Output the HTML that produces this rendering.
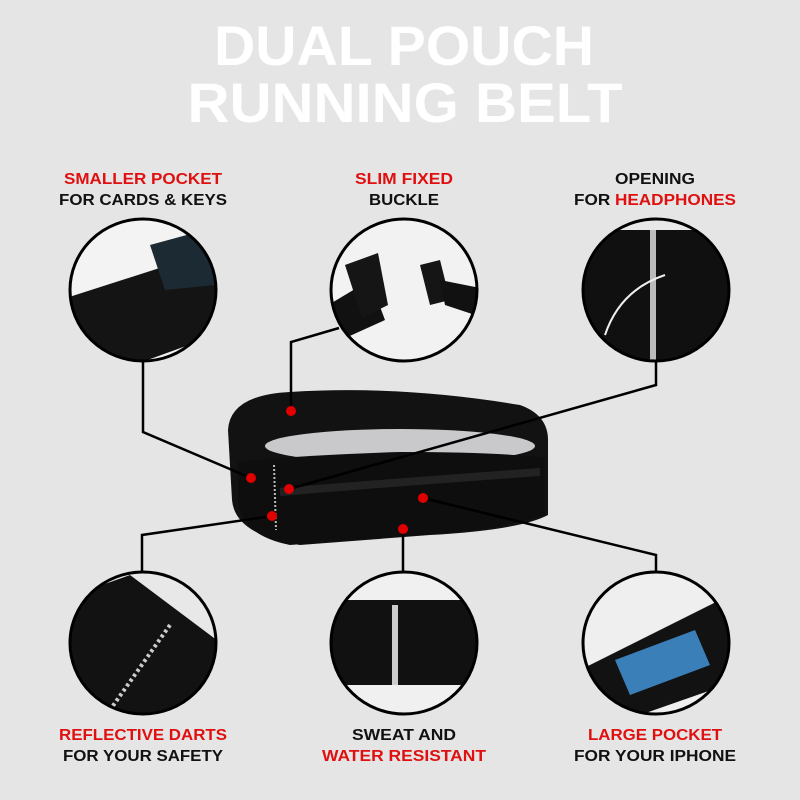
<!DOCTYPE html>
<html><head><style>
html,body{margin:0;padding:0;background:#e5e5e5;}
svg{display:block}
text{font-family:"Liberation Sans",sans-serif;font-weight:bold;}
</style></head><body>
<svg width="800" height="800" viewBox="0 0 800 800">
<rect width="800" height="800" fill="#e5e5e5"/>
<defs>
<clipPath id="c1"><ellipse cx="143" cy="290" rx="73" ry="71"/></clipPath>
<clipPath id="c2"><ellipse cx="404" cy="290" rx="73" ry="71"/></clipPath>
<clipPath id="c3"><ellipse cx="656" cy="290" rx="73" ry="71"/></clipPath>
<clipPath id="c4"><ellipse cx="143" cy="643" rx="73" ry="71"/></clipPath>
<clipPath id="c5"><ellipse cx="404" cy="643" rx="73" ry="71"/></clipPath>
<clipPath id="c6"><ellipse cx="656" cy="643" rx="73" ry="71"/></clipPath>
</defs>
<g fill="#fff" font-size="56" text-anchor="middle">
<text x="404" y="65" textLength="380" lengthAdjust="spacingAndGlyphs">DUAL POUCH</text>
<text x="405" y="122" textLength="435" lengthAdjust="spacingAndGlyphs">RUNNING BELT</text>
</g>
<g font-size="16" text-anchor="middle">
<text x="143" y="184" fill="#e01010" textLength="158" lengthAdjust="spacingAndGlyphs">SMALLER POCKET</text>
<text x="143" y="205" fill="#111" textLength="168" lengthAdjust="spacingAndGlyphs">FOR CARDS &amp; KEYS</text>
<text x="404" y="184" fill="#e01010" textLength="98" lengthAdjust="spacingAndGlyphs">SLIM FIXED</text>
<text x="404" y="205" fill="#111" textLength="70" lengthAdjust="spacingAndGlyphs">BUCKLE</text>
<text x="655" y="184" fill="#111" textLength="80" lengthAdjust="spacingAndGlyphs">OPENING</text>
<text x="655" y="205" textLength="162" lengthAdjust="spacingAndGlyphs"><tspan fill="#111">FOR </tspan><tspan fill="#e01010">HEADPHONES</tspan></text>
<text x="143" y="740" fill="#e01010" textLength="168" lengthAdjust="spacingAndGlyphs">REFLECTIVE DARTS</text>
<text x="143" y="761" fill="#111" textLength="160" lengthAdjust="spacingAndGlyphs">FOR YOUR SAFETY</text>
<text x="404" y="740" fill="#111" textLength="104" lengthAdjust="spacingAndGlyphs">SWEAT AND</text>
<text x="404" y="761" fill="#e01010" textLength="164" lengthAdjust="spacingAndGlyphs">WATER RESISTANT</text>
<text x="655" y="740" fill="#e01010" textLength="134" lengthAdjust="spacingAndGlyphs">LARGE POCKET</text>
<text x="655" y="761" fill="#111" textLength="162" lengthAdjust="spacingAndGlyphs">FOR YOUR IPHONE</text>
</g>
<g clip-path="url(#c1)"><rect x="60" y="210" width="170" height="160" fill="#f3f3f3"/>
<path d="M60 300 L200 255 L230 270 L230 330 L120 370 L60 370Z" fill="#141414"/>
<path d="M150 245 L205 230 L215 285 L165 290Z" fill="#1c2a33"/></g>
<g clip-path="url(#c2)"><rect x="320" y="210" width="170" height="160" fill="#f2f2f2"/>
<path d="M320 310 L370 280 L385 320 L330 345Z" fill="#111"/>
<path d="M345 265 L378 253 L388 305 L362 318Z" fill="#151515"/>
<path d="M420 265 L440 260 L450 300 L430 305Z" fill="#151515"/>
<path d="M440 280 L490 290 L490 320 L445 305Z" fill="#111"/></g>
<g clip-path="url(#c3)"><rect x="580" y="210" width="170" height="160" fill="#101010"/>
<rect x="580" y="210" width="170" height="20" fill="#e8e8e8"/>
<rect x="650" y="230" width="6" height="130" fill="#bbb"/>
<path d="M665 275 Q620 290 605 335" stroke="#eee" stroke-width="2" fill="none"/></g>
<g clip-path="url(#c4)"><rect x="60" y="565" width="170" height="160" fill="#e8e8e8"/>
<path d="M60 600 L130 575 L230 650 L230 720 L60 720Z" fill="#121212"/>
<path d="M170 625 L110 710" stroke="#ccc" stroke-width="4" stroke-dasharray="3 3"/></g>
<g clip-path="url(#c5)"><rect x="320" y="565" width="170" height="160" fill="#f0f0f0"/>
<rect x="320" y="600" width="170" height="85" fill="#111"/>
<rect x="392" y="605" width="6" height="80" fill="#ccc"/></g>
<g clip-path="url(#c6)"><rect x="580" y="565" width="170" height="160" fill="#efefef"/>
<path d="M580 670 L720 600 L740 620 L740 680 L640 715 L580 720Z" fill="#121212"/>
<path d="M615 660 L695 630 L710 665 L630 695Z" fill="#3a7fb8"/></g>
<g fill="none" stroke="#000" stroke-width="3">
<ellipse cx="143" cy="290" rx="73" ry="71"/><ellipse cx="404" cy="290" rx="73" ry="71"/><ellipse cx="656" cy="290" rx="73" ry="71"/>
<ellipse cx="143" cy="643" rx="73" ry="71"/><ellipse cx="404" cy="643" rx="73" ry="71"/><ellipse cx="656" cy="643" rx="73" ry="71"/>
</g>
<!-- belt -->
<path d="M228 430 Q230 395 290 392 Q400 385 520 405 Q548 415 548 440 L548 515 Q520 530 430 535 L300 545 Q235 535 232 500Z" fill="#121212"/>
<ellipse cx="400" cy="446" rx="135" ry="17" fill="#c9c9cc"/>
<path d="M238 462 Q300 455 400 452 Q500 452 545 458 L545 515 Q500 530 420 535 L290 545 Q240 535 238 500Z" fill="#0e0e0e"/>
<path d="M280 492 Q400 482 540 472" stroke="#222" stroke-width="8" fill="none"/>
<path d="M274 465 L276 530" stroke="#bbb" stroke-width="2" stroke-dasharray="2 2"/>
<g fill="none" stroke="#000" stroke-width="2.5">
<polyline points="143,362 143,432 251,478"/>
<polyline points="339,328 291,342 291,410"/>
<polyline points="656,362 656,385 289,489"/>
<polyline points="272,516 142,535 142,572"/>
<polyline points="403,529 403,572"/>
<polyline points="423,498 656,555 656,572"/>
</g>
<g fill="#e00000">
<circle cx="291" cy="411" r="5"/><circle cx="251" cy="478" r="5"/><circle cx="289" cy="489" r="5"/>
<circle cx="272" cy="516" r="5"/><circle cx="423" cy="498" r="5"/><circle cx="403" cy="529" r="5"/>
</g>
</svg>
</body></html>
